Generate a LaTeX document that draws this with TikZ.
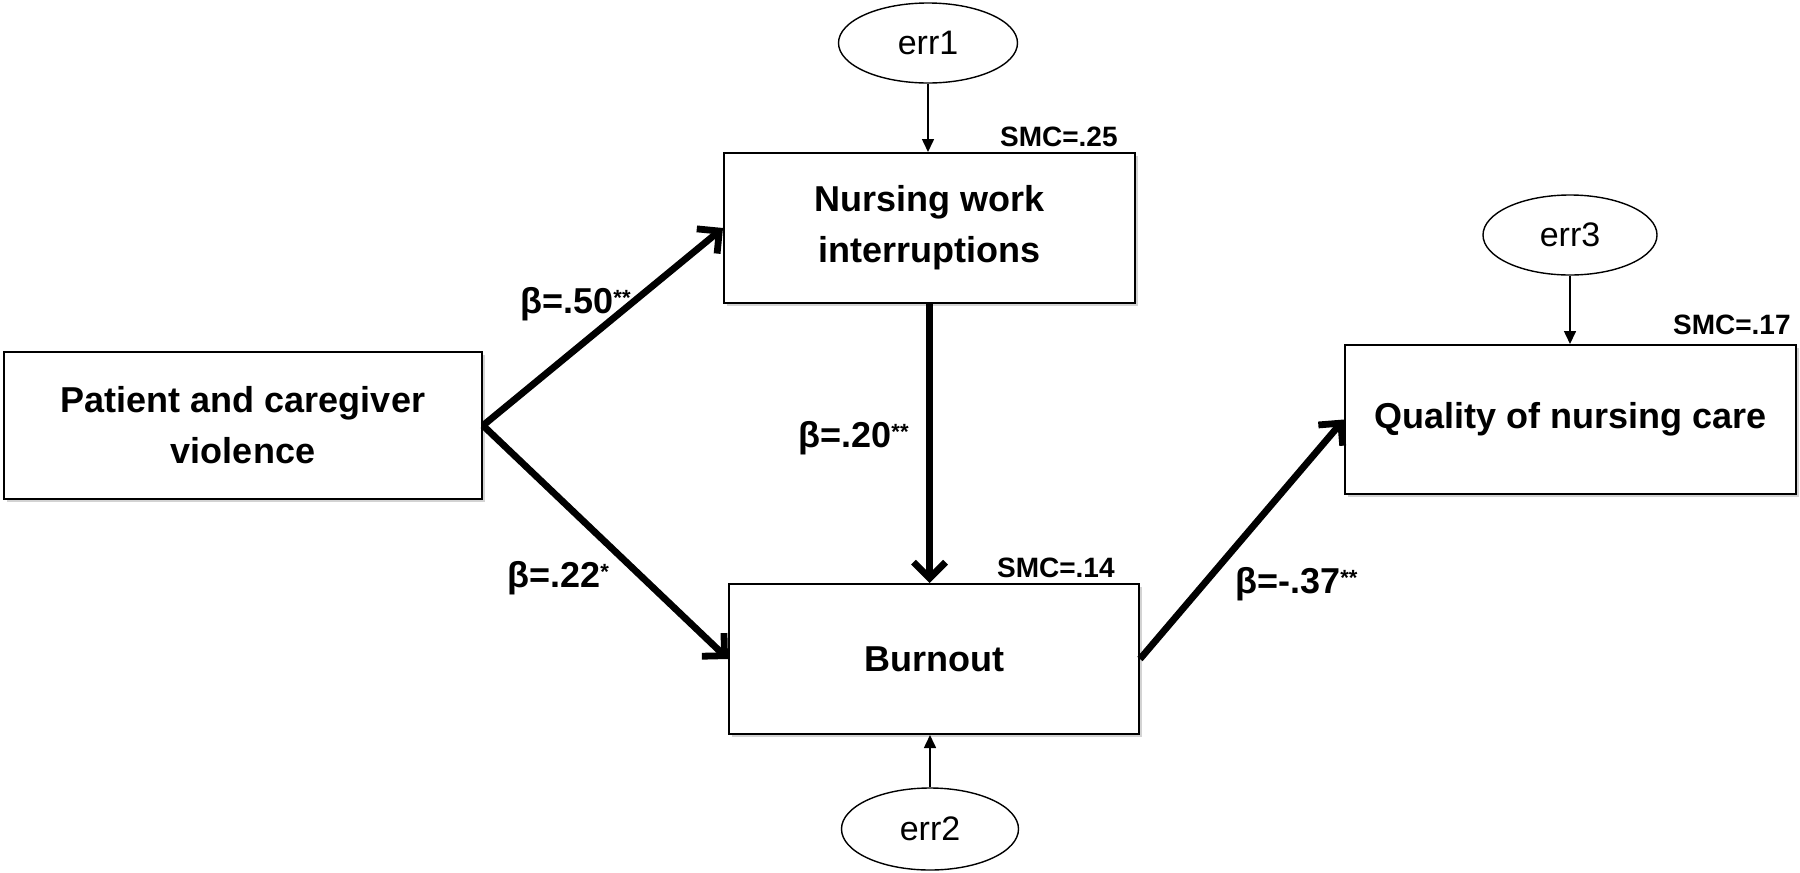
\documentclass[tikz,border=0pt]{standalone}
\usepackage{fontspec}
\setmainfont{Liberation Sans}
\usetikzlibrary{arrows.meta,shapes.geometric,shadows}

\begin{document}
\begin{tikzpicture}[x=0.5pt,y=-0.5pt,
  box/.style={draw, line width=1pt, fill=white, inner sep=0pt, align=center,
    font=\fontsize{18}{25.5}\selectfont\bfseries,
    drop shadow={shadow xshift=1.5pt, shadow yshift=-1.5pt, opacity=0.35, fill=gray}},
  errnode/.style={draw, ellipse, line width=0.7pt, fill=white, inner sep=0pt,
    font=\fontsize{17}{20}\selectfont},
  pathar/.style={line width=3.4pt, line join=round, -{Straight Barb[length=8pt,width=16pt]}},
  errar/.style={line width=0.8pt, -{Triangle[length=6.5pt,width=6pt]}},
  coef/.style={anchor=base west, inner sep=0pt, font=\fontsize{18}{20}\selectfont\bfseries},
  smc/.style={anchor=base east, inner sep=0pt, font=\fontsize{14}{16}\selectfont\bfseries}
]
\useasboundingbox (0,0) rectangle (1800,873);

\node[box, minimum width=239pt, minimum height=73.5pt] (pat) at (243,425.5) {Patient and caregiver\\violence};
\node[box, minimum width=205.5pt, minimum height=75pt] (nurs) at (929.5,228) {Nursing work\\interruptions};
\node[box, minimum width=205pt, minimum height=75pt] (burn) at (934,659) {Burnout};
\node[box, minimum width=225.5pt, minimum height=74.5pt] (qual) at (1570.5,419.5) {Quality of nursing care};

\node[errnode, minimum width=89.5pt, minimum height=40pt] (err1) at (928,43) {err1};
\node[errnode, minimum width=88.5pt, minimum height=41pt] (err2) at (930,829) {err2};
\node[errnode, minimum width=87pt, minimum height=40pt] (err3) at (1570,235) {err3};

\draw[pathar] (pat.east) -- (nurs.west);
\draw[pathar] (pat.east) -- (burn.west);
\draw[pathar] (nurs.south) -- (nurs.south |- burn.north);
\draw[pathar] (burn.east) -- (qual.west);

\draw[errar] (err1.south) -- (err1.south |- nurs.north);
\draw[errar] (err2.north) -- (err2.north |- burn.south);
\draw[errar] (err3.south) -- (err3.south |- qual.north);

\node[coef] (b50) at (520,313) {β=.50\raisebox{4pt}{\fontsize{11}{12}\selectfont **}};
\node[coef] (b22) at (507,587) {β=.22\raisebox{4pt}{\fontsize{11}{12}\selectfont *}};
\node[coef] (b20) at (798,447) {β=.20\raisebox{4pt}{\fontsize{11}{12}\selectfont **}};
\node[coef] (b37) at (1235,593) {β=-.37\raisebox{4pt}{\fontsize{11}{12}\selectfont **}};

\node[smc] (s25) at (1118,146) {SMC=.25};
\node[smc] (s14) at (1115,577) {SMC=.14};
\node[smc] (s17) at (1791,334) {SMC=.17};
\end{tikzpicture}
\end{document}
